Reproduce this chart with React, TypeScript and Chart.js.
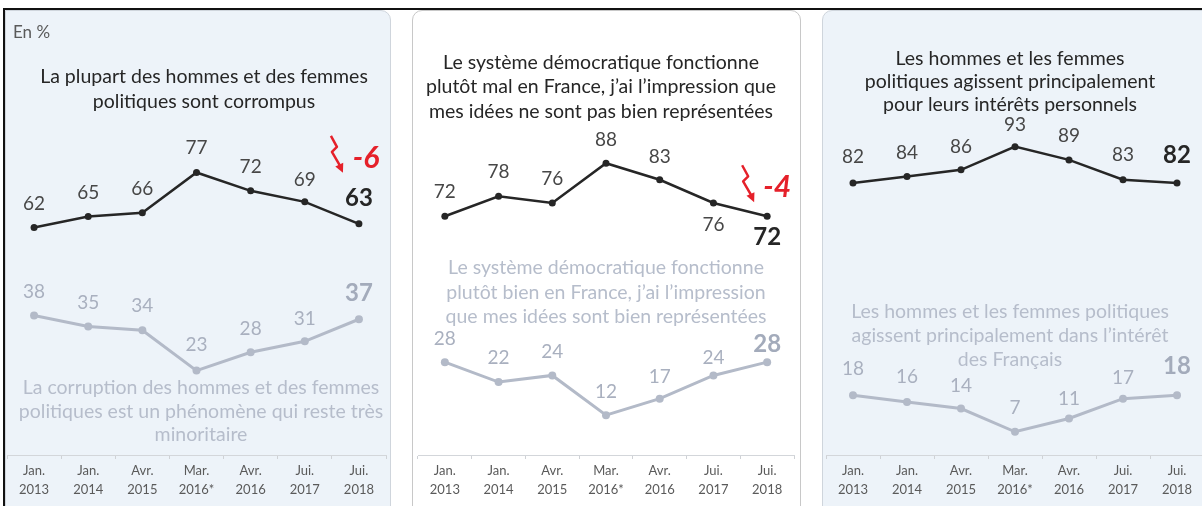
import React, { useEffect, useRef } from 'react';
import { Chart, registerables } from 'chart.js';

Chart.register(...registerables);

// ---------- Data ----------
const categories: string[][] = [
  ['Jan.', '2013'],
  ['Jan.', '2014'],
  ['Avr.', '2015'],
  ['Mar.', '2016*'],
  ['Avr.', '2016'],
  ['Jui.', '2017'],
  ['Jui.', '2018'],
];

const corrompus = [62, 65, 66, 77, 72, 69, 63];
const corruptionMinoritaire = [38, 35, 34, 23, 28, 31, 37];
const democratieMal = [72, 78, 76, 88, 83, 76, 72];
const democratieBien = [28, 22, 24, 12, 17, 24, 28];
const interetsPersonnels = [82, 84, 86, 93, 89, 83, 82];
const interetFrancais = [18, 16, 14, 7, 11, 17, 18];

const titre1 = ['La plupart des hommes et des femmes', 'politiques sont corrompus'];
const legende1 = ['La corruption des hommes et des femmes', 'politiques est un phénomène qui reste très', 'minoritaire'];
const titre2 = ['Le système démocratique fonctionne', 'plutôt mal en France, j’ai l’impression que', 'mes idées ne sont pas bien représentées'];
const legende2 = ['Le système démocratique fonctionne', 'plutôt bien en France, j’ai l’impression', 'que mes idées sont bien représentées'];
const titre3 = ['Les hommes et les femmes', 'politiques agissent principalement', 'pour leurs intérêts personnels'];
const legende3 = ['Les hommes et les femmes politiques', 'agissent principalement dans l’intérêt', 'des Français'];

const evolution1 = '-6';
const evolution2 = '-4';

// ---------- Styles ----------
const FONT = 'Lato, "Open Sans", sans-serif';
const DARK = '#262626';
const LABEL_DARK = '#474747';
const LIGHT = '#b3bac8';
const LABEL_LIGHT = '#a9b0bf';
const CAPTION_LIGHT = '#b6bdcb';
const RED = '#e5202a';

const CANVAS_TOP = 10;
const CANVAS_H = 496;

type PanelCfg = {
  left: number;
  width: number;
  yMax: number;
  top: number[];
  bottom: number[];
  title: string[];
  titleX: number;
  titleY: number[];
  caption: string[];
  captionX: number;
  captionY: number[];
  topOff: number[];
  bottomOff: number[];
  delta?: string;
  arrowTip?: [number, number];
  deltaPos?: [number, number];
  enPct?: boolean;
};

const panels: PanelCfg[] = [
  {
    left: 3, width: 387, yMax: 120.2,
    top: corrompus, bottom: corruptionMinoritaire,
    title: titre1, titleX: 204, titleY: [77, 102],
    caption: legende1, captionX: 201, captionY: [388, 412, 435],
    topOff: [-24, -24, -24, -25, -24, -22, -26],
    bottomOff: [-24, -24, -24, -26, -23, -22, -26],
    delta: evolution1, arrowTip: [-16, -51], deltaPos: [7, -66], enPct: true,
  },
  {
    left: 414, width: 384, yMax: 133,
    top: democratieMal, bottom: democratieBien,
    title: titre2, titleX: 601, titleY: [63, 87, 112],
    caption: legende2, captionX: 606, captionY: [268, 293, 317],
    topOff: [-24, -24, -24, -23, -23, 22, 21],
    bottomOff: [-23, -24, -24, -23, -22, -18, -18],
    delta: evolution2, arrowTip: [-13, -14], deltaPos: [10, -29],
  },
  {
    left: 822, width: 386, yMax: 133,
    top: interetsPersonnels, bottom: interetFrancais,
    title: titre3, titleX: 1010, titleY: [59, 82, 105],
    caption: legende3, captionX: 1010, captionY: [312, 336, 360],
    topOff: [-26, -24, -23, -22, -24, -25, -28],
    bottomOff: [-26, -25, -23, -24, -20, -21, -29],
  },
];

function drawLines(ctx: CanvasRenderingContext2D, lines: string[], x: number, ys: number[]) {
  lines.forEach((l, i) => ctx.fillText(l, x, ys[i]));
}

function PanelChart({ cfg }: { cfg: PanelCfg }) {
  const ref = useRef<HTMLCanvasElement | null>(null);
  useEffect(() => {
    if (!ref.current) return;
    const ox = cfg.left;
    const oy = CANVAS_TOP;
    const overlay = {
      id: 'overlay',
      afterDatasetsDraw(chart: any) {
        const ctx: CanvasRenderingContext2D = chart.ctx;
        ctx.save();
        ctx.textAlign = 'center';
        ctx.textBaseline = 'middle';
        // titles
        ctx.fillStyle = DARK;
        ctx.font = `19.5px ${FONT}`;
        drawLines(ctx, cfg.title, cfg.titleX - ox, cfg.titleY.map((y) => y - oy));
        ctx.fillStyle = CAPTION_LIGHT;
        drawLines(ctx, cfg.caption, cfg.captionX - ox, cfg.captionY.map((y) => y - oy));
        if (cfg.enPct) {
          ctx.textAlign = 'left';
          ctx.fillStyle = '#5a5a5a';
          ctx.font = `17px ${FONT}`;
          ctx.fillText('En %', 13 - ox, 33 - oy);
          ctx.textAlign = 'center';
        }
        // value labels
        const sets = [
          { ds: 0, vals: cfg.top, off: cfg.topOff, color: LABEL_DARK, bold: DARK },
          { ds: 1, vals: cfg.bottom, off: cfg.bottomOff, color: LABEL_LIGHT, bold: '#a3abbb' },
        ];
        sets.forEach((s) => {
          const meta = chart.getDatasetMeta(s.ds);
          meta.data.forEach((el: any, i: number) => {
            const last = i === s.vals.length - 1;
            ctx.font = last ? `bold 24px ${FONT}` : `19px ${FONT}`;
            ctx.fillStyle = last ? s.bold : s.color;
            ctx.fillText(String(s.vals[i]), el.x, el.y + s.off[i]);
          });
        });
        // evolution arrow
        if (cfg.delta && cfg.arrowTip && cfg.deltaPos) {
          const meta = chart.getDatasetMeta(0);
          const lastEl = meta.data[meta.data.length - 1];
          const tx = lastEl.x + cfg.arrowTip[0];
          const ty = lastEl.y + cfg.arrowTip[1];
          const shape = [[-12, -37], [-6, -26], [-11, -21], [-4, -9]];
          ctx.strokeStyle = RED;
          ctx.fillStyle = RED;
          ctx.lineWidth = 2.5;
          ctx.lineJoin = 'round';
          ctx.beginPath();
          ctx.moveTo(tx + shape[0][0], ty + shape[0][1]);
          for (let k = 1; k < shape.length; k++) ctx.lineTo(tx + shape[k][0], ty + shape[k][1]);
          const a = Math.atan2(-shape[3][1], -shape[3][0]);
          ctx.lineTo(tx - 4 * Math.cos(a), ty - 4 * Math.sin(a));
          ctx.stroke();
          ctx.beginPath();
          ctx.moveTo(tx, ty);
          ctx.lineTo(tx - 10 * Math.cos(a - 0.45), ty - 10 * Math.sin(a - 0.45));
          ctx.lineTo(tx - 10 * Math.cos(a + 0.45), ty - 10 * Math.sin(a + 0.45));
          ctx.closePath();
          ctx.fill();
          ctx.font = `italic bold 30px ${FONT}`;
          ctx.fillText(cfg.delta, lastEl.x + cfg.deltaPos[0], lastEl.y + cfg.deltaPos[1]);
        }
        ctx.restore();
      },
    };
    const chart = new Chart(ref.current, {
      type: 'line',
      data: {
        labels: categories,
        datasets: [
          {
            data: cfg.top,
            borderColor: DARK,
            backgroundColor: DARK,
            borderWidth: 2.5,
            pointRadius: 3.5,
            pointBorderWidth: 0,
            tension: 0,
          },
          {
            data: cfg.bottom,
            borderColor: LIGHT,
            backgroundColor: LIGHT,
            borderWidth: 3,
            pointRadius: 4,
            pointBorderWidth: 0,
            tension: 0,
          },
        ],
      },
      options: {
        animation: false,
        responsive: false,
        events: [],
        layout: { padding: { top: 0, left: 0, right: 0, bottom: 4 } },
        plugins: { legend: { display: false }, tooltip: { enabled: false }, title: { display: false } },
        scales: {
          x: {
            offset: true,
            grid: { offset: true, drawOnChartArea: false, tickLength: 4, color: '#cfd2d6' },
            border: { display: true, color: '#d3d6da', width: 1 },
            ticks: {
              color: '#5a5a5a',
              padding: 2,
              font: { family: FONT, size: 13, lineHeight: 1.5 },
              maxRotation: 0,
              autoSkip: false,
            },
          },
          y: { display: false, min: 0, max: cfg.yMax },
        },
      },
      plugins: [overlay],
    });
    return () => chart.destroy();
  }, [cfg]);
  return (
    <canvas
      ref={ref}
      width={cfg.width}
      height={CANVAS_H}
      style={{ position: 'absolute', left: cfg.left, top: CANVAS_TOP, width: cfg.width, height: CANVAS_H }}
    />
  );
}

export default function App() {
  return (
    <div style={{ position: 'absolute', left: 0, top: 0, width: 1202, height: 506, overflow: 'hidden', background: '#fff' }}>
      <div style={{ position: 'absolute', left: 3, top: 8, width: 1210, height: 510, borderTop: '2px solid #111', borderLeft: '2px solid #111' }} />
      <div style={{ position: 'absolute', left: 5, top: 10, width: 384, height: 510, background: '#edf3f9', border: '1px solid #cfd5dc', borderTopRightRadius: 10 }} />
      <div style={{ position: 'absolute', left: 412, top: 10, width: 387, height: 510, background: '#ffffff', border: '1px solid #c8c8c8', borderTopLeftRadius: 10, borderTopRightRadius: 10 }} />
      <div style={{ position: 'absolute', left: 822, top: 10, width: 400, height: 510, background: '#edf3f9', border: '1px solid #cfd5dc', borderTopLeftRadius: 10 }} />
      {panels.map((p, i) => (
        <PanelChart key={i} cfg={p} />
      ))}
    </div>
  );
}
